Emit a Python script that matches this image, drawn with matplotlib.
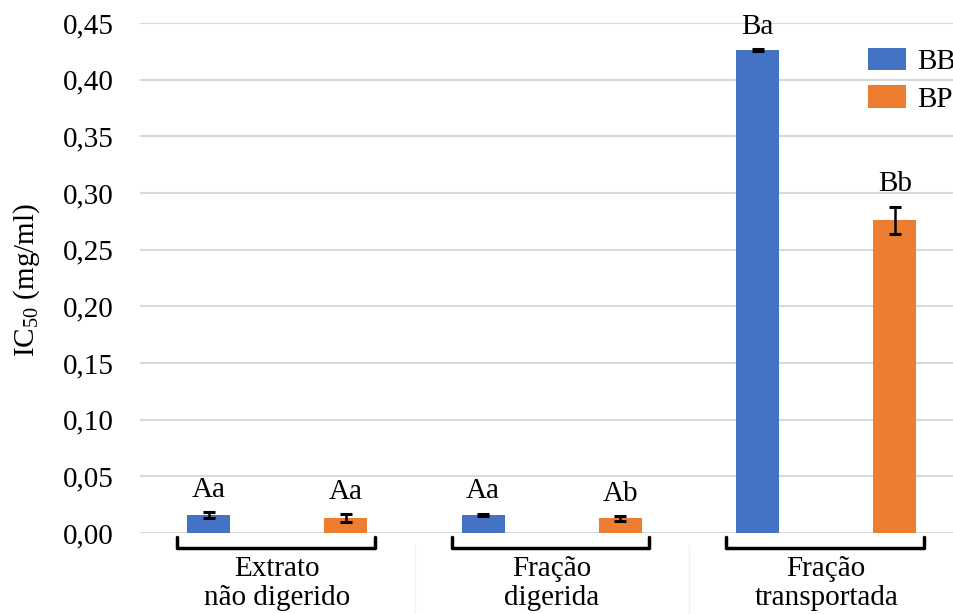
import matplotlib

matplotlib.use("Agg")
import matplotlib.pyplot as plt
import matplotlib.transforms as mtransforms
from matplotlib.ticker import FuncFormatter, MultipleLocator

# ---------------------------------------------------------------------------
# Data (IC50, mg/ml)
# ---------------------------------------------------------------------------

groups = ["Extrato\nnão digerido", "Fração\ndigerida", "Fração\ntransportada"]
series = ["BB", "BP"]
bb_values = [0.016, 0.016, 0.426]
bb_errors = [0.0025, 0.001, 0.001]
bp_values = [0.013, 0.013, 0.276]
bp_errors = [0.0035, 0.002, 0.012]
bb_letters = ["Aa", "Aa", "Ba"]
bp_letters = ["Aa", "Ab", "Bb"]

COLORS = {"BB": "#4472C4", "BP": "#ED7D31"}
FS = 21

plt.rcParams["font.family"] = ["Liberation Serif", "DejaVu Serif"]
plt.rcParams["mathtext.fontset"] = "custom"
plt.rcParams["mathtext.rm"] = "Liberation Serif"
plt.rcParams["font.size"] = FS

W, H = 954, 614
fig = plt.figure(figsize=(W / 100, H / 100), dpi=100)
# axes deliberately runs past the right edge (legend cropped like the original)
ax = fig.add_axes([140 / W, (H - 533) / H, 823.5 / W, 510 / H])

offset = 0.25
width = 0.157
x = list(range(len(groups)))

for name, vals, errs, letters, sign in [
    ("BB", bb_values, bb_errors, bb_letters, -1),
    ("BP", bp_values, bp_errors, bp_letters, 1),
]:
    xs = [i + sign * offset for i in x]
    ax.bar(xs, vals, width, color=COLORS[name], label=name, zorder=3)
    ax.errorbar(xs, vals, yerr=errs, fmt="none", ecolor="black",
                elinewidth=1.8, capsize=4.5, capthick=2.2, zorder=4)
    for xi, v, e, lab in zip(xs, vals, errs, letters):
        ax.annotate(lab, (xi, v + e), xytext=(0, 11), textcoords="offset points",
                    ha="center", va="baseline", fontsize=FS)

ax.set_xlim(-0.5, 2.5)
ax.set_ylim(0, 0.45)
ax.yaxis.set_major_locator(MultipleLocator(0.05))
ax.yaxis.set_major_formatter(FuncFormatter(lambda v, p: f"{v:.2f}".replace(".", ",")))
ax.tick_params(axis="y", length=0, pad=19, labelsize=FS)
ax.set_xticks([])
ax.grid(axis="y", color="#d9d9d9", linewidth=1.5, zorder=0)
for s in ax.spines.values():
    s.set_visible(False)

# category brackets and labels below the axis
trans = mtransforms.blended_transform_factory(ax.transData, ax.transAxes)
y_top = -4 / 510
y_bot = -15 / 510
for i, g in enumerate(groups):
    xl, xr = i - 0.365, i + 0.355
    ax.plot([xl, xl, xr, xr], [y_top, y_bot, y_bot, y_top], color="black",
            linewidth=2.5, solid_joinstyle="round", solid_capstyle="round",
            transform=trans, clip_on=False)
    ax.text(i, -23 / 510, g, transform=trans, ha="center", va="top",
            fontsize=FS, linespacing=1.15)
for b in [0.5, 1.5]:
    ax.plot([b, b], [-12 / 510, -81 / 510], color="#f2f2f2", linewidth=1,
            transform=trans, clip_on=False)

fig.text(27 / W, 1 - 280 / H, "IC$_{\\mathrm{50}}$ (mg/ml)", rotation=90,
         ha="center", va="center", fontsize=FS)

ax.legend(loc="upper left", bbox_to_anchor=(868 / W, 1 - 48 / H),
          bbox_transform=fig.transFigure, frameon=False, fontsize=FS,
          handlelength=1.3, handleheight=0.8, handletextpad=0.4,
          labelspacing=0.35, borderpad=0, borderaxespad=0)

fig.savefig("out.png", dpi=100)
